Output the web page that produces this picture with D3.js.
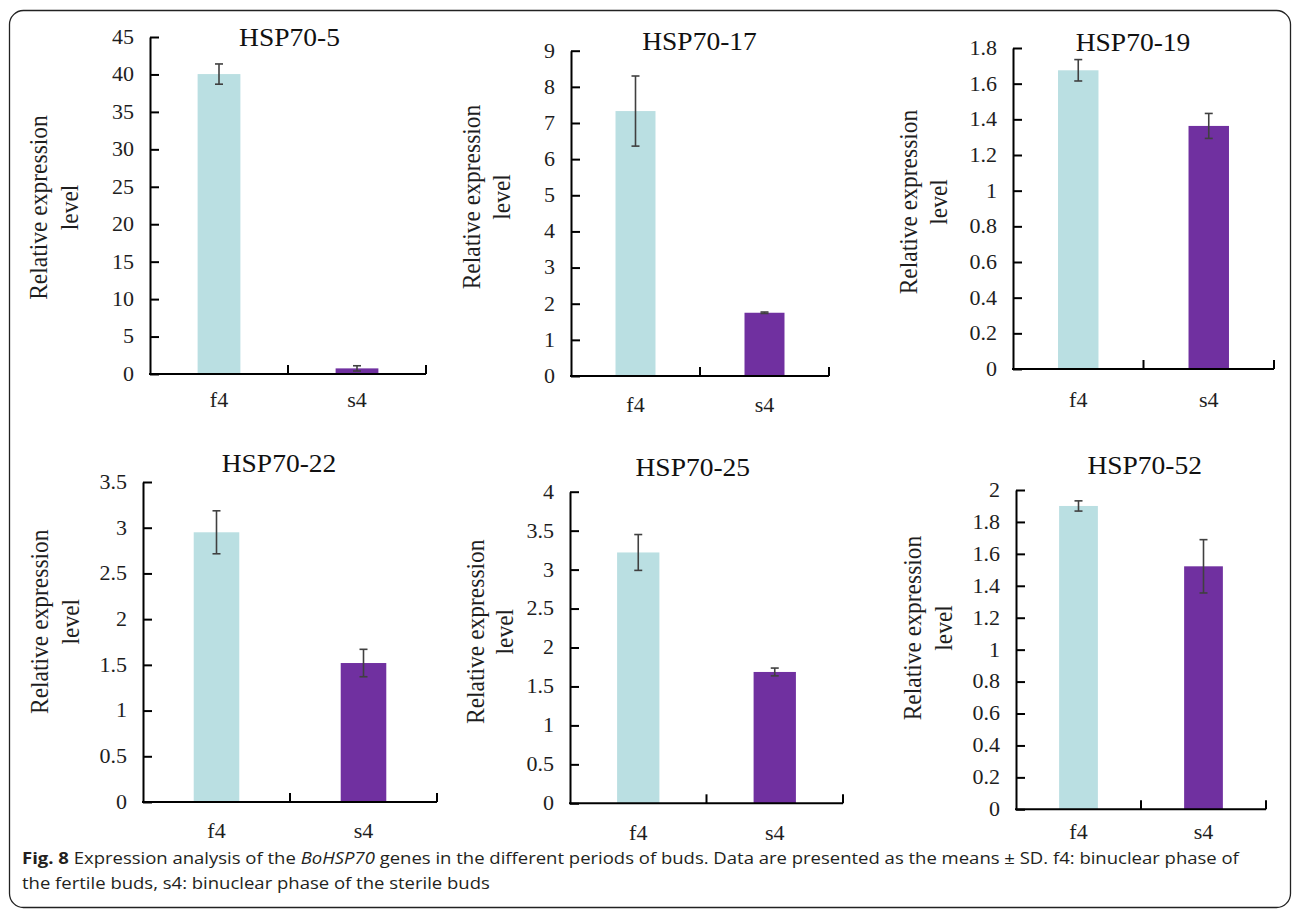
<!DOCTYPE html>
<html><head><meta charset="utf-8">
<script src="https://cdn.jsdelivr.net/npm/d3@7"></script>
<style>body{margin:0;background:#fff} svg{display:block}</style>
</head><body>
<svg id="c" width="1293" height="913"></svg>
<script>
// ---- data ----
const geneNames = ["HSP70-5","HSP70-17","HSP70-19","HSP70-22","HSP70-25","HSP70-52"];
const categories = ["f4","s4"];
const f4Mean = [40.05, 7.33, 1.675, 2.95, 3.22, 1.90];
const f4SD   = [1.35, 0.97, 0.06, 0.235, 0.23, 0.032];
const s4Mean = [0.75, 1.75, 1.363, 1.52, 1.686, 1.522];
const s4SD   = [0.35, 0.02, 0.07, 0.15, 0.05, 0.167];
const yTicks = [
  [0,5,10,15,20,25,30,35,40,45],
  [0,1,2,3,4,5,6,7,8,9],
  [0,0.2,0.4,0.6,0.8,1,1.2,1.4,1.6,1.8],
  [0,0.5,1,1.5,2,2.5,3,3.5],
  [0,0.5,1,1.5,2,2.5,3,3.5,4],
  [0,0.2,0.4,0.6,0.8,1,1.2,1.4,1.6,1.8,2]
];
const yLabelLines = ["Relative expression","level"];
const captionLine1 = [
  {t:"Fig. 8", w:"bold", s:"normal"},
  {t:" Expression analysis of the ", w:"normal", s:"normal"},
  {t:"BoHSP70", w:"normal", s:"italic"},
  {t:" genes in the different periods of buds. Data are presented as the means \u00b1 SD. f4: binuclear phase of", w:"normal", s:"normal"}
];
const captionLine2 = "the fertile buds, s4: binuclear phase of the sterile buds";

// ---- layout ----
const layout = [
  {l:150,  r:426,  t:37,    b:374,   tx:289.5,  ty:46,    lcy:207.5, l1:46.5,  l2:77.5, xly:407},
  {l:571,  r:829,  t:50.7,  b:376,   tx:699.5,  ty:50,    lcy:197,   l1:479.5, l2:510,  xly:412},
  {l:1013, r:1274, t:48,    b:369,   tx:1133,   ty:50.7,  lcy:202,   l1:916.5, l2:947,  xly:407},
  {l:143,  r:437,  t:482,   b:802,   tx:279,    ty:471.7, lcy:621.7, l1:48,    l2:79,   xly:838},
  {l:570,  r:843,  t:491.7, b:803.3, tx:692.8,  ty:475.7, lcy:631.7, l1:483.5, l2:513,  xly:840},
  {l:1016, r:1266, t:490,   b:809.3, tx:1144.7, ty:474,   lcy:628,   l1:920.5, l2:952,  xly:839}
];
const SERIF = "'Liberation Serif','Times New Roman',Times,serif";
const SX = 1.1; // horizontal stretch of the source image text
const colors = {f4:"#badfe2", s4:"#7030a0"};
const textCol = "#1e1e1e";

const svg = d3.select("#c");
svg.append("rect").attr("x",9.5).attr("y",10.5).attr("width",1281).attr("height",897)
  .attr("rx",14).attr("fill","none").attr("stroke","#222").attr("stroke-width",1.3);

geneNames.forEach((name, i) => {
  const L = layout[i];
  const g = svg.append("g");
  const y = d3.scaleLinear().domain([0, yTicks[i][yTicks[i].length-1]]).range([L.b, L.t]);
  const x = d3.scaleBand().domain(categories).range([L.l, L.r]).paddingInner(0.69).paddingOuter(0.345);
  const means = [f4Mean[i], s4Mean[i]];
  const sds = [f4SD[i], s4SD[i]];
  const rows = categories.map((c, k) => ({c, m: means[k], sd: sds[k]}));

  // bars
  g.selectAll("rect.bar").data(rows).join("rect").attr("class","bar")
    .attr("x", d => x(d.c)).attr("width", x.bandwidth())
    .attr("y", d => y(d.m)).attr("height", d => y(0) - y(d.m))
    .attr("fill", d => colors[d.c]);

  // error bars
  const eb = g.selectAll("g.err").data(rows).join("g").attr("class","err")
    .attr("stroke","#404040").attr("stroke-width",1.6);
  eb.append("line").attr("x1", d => x(d.c)+x.bandwidth()/2).attr("x2", d => x(d.c)+x.bandwidth()/2)
    .attr("y1", d => y(d.m + d.sd)).attr("y2", d => y(d.m - d.sd));
  [1,-1].forEach(s => {
    eb.append("line").attr("x1", d => x(d.c)+x.bandwidth()/2-4).attr("x2", d => x(d.c)+x.bandwidth()/2+4)
      .attr("y1", d => y(d.m + s*d.sd)).attr("y2", d => y(d.m + s*d.sd));
  });

  // y axis
  const ya = g.append("g").attr("transform", `translate(${L.l},0)`)
    .call(d3.axisLeft(y).tickValues(yTicks[i]).tickFormat(d3.format("~g"))
      .tickSizeInner(-9).tickSizeOuter(0).tickPadding(16));
  ya.select(".domain").attr("stroke","#000").attr("stroke-width",2);
  ya.selectAll(".tick line").attr("stroke","#000").attr("stroke-width",2);
  ya.selectAll(".tick text").attr("x",null).attr("transform",`translate(-16,0) scale(${SX},1)`)
    .attr("font-family",SERIF).attr("font-size",20).attr("fill",textCol);

  // x axis line + boundary ticks
  g.append("line").attr("x1",L.l-1).attr("x2",L.r).attr("y1",y(0)).attr("y2",y(0))
    .attr("stroke","#000").attr("stroke-width",2);
  g.selectAll("line.xt").data(categories).join("line").attr("class","xt")
    .attr("x1", c => x(c)+x.bandwidth()/2+x.step()/2).attr("x2", c => x(c)+x.bandwidth()/2+x.step()/2)
    .attr("y1", y(0)).attr("y2", y(0)-9).attr("stroke","#000").attr("stroke-width",2);
  // x labels
  g.selectAll("text.xl").data(categories).join("text").attr("class","xl")
    .attr("transform", c => `translate(${x(c)+x.bandwidth()/2},${L.xly}) scale(${SX},1)`)
    .attr("text-anchor","middle").attr("font-family",SERIF).attr("font-size",20).attr("fill",textCol)
    .text(c => c);

  // title
  g.append("text").attr("transform",`translate(${L.tx},${L.ty}) scale(${SX},1)`)
    .attr("text-anchor","middle").attr("font-family",SERIF).attr("font-size",25).attr("fill","#111")
    .text(name);

  // y label (two lines)
  [L.l1, L.l2].forEach((bx, k) => {
    g.append("text").attr("transform",`translate(${bx},${L.lcy}) scale(${SX},1) rotate(-90)`)
      .attr("text-anchor","middle").attr("font-family",SERIF).attr("font-size",23.5).attr("fill",textCol)
      .text(yLabelLines[k]);
  });
});

// caption
const SANS = "'Open Sans','Noto Sans',sans-serif";
const capX = 22, capTargetW = 1218;
const cap1 = svg.append("text").attr("font-family",SANS)
  .attr("font-size",16.5).attr("fill","#231f20");
captionLine1.forEach(p => cap1.append("tspan").attr("font-weight",p.w).attr("font-style",p.s).text(p.t));
const cap2 = svg.append("text").attr("font-family",SANS)
  .attr("font-size",16.5).attr("fill","#231f20").text(captionLine2);
const capSX = capTargetW / cap1.node().getComputedTextLength();
cap1.attr("transform",`translate(${capX},864) scale(${capSX},1)`);
cap2.attr("transform",`translate(${capX},889) scale(${capSX},1)`);
</script>
</body></html>
